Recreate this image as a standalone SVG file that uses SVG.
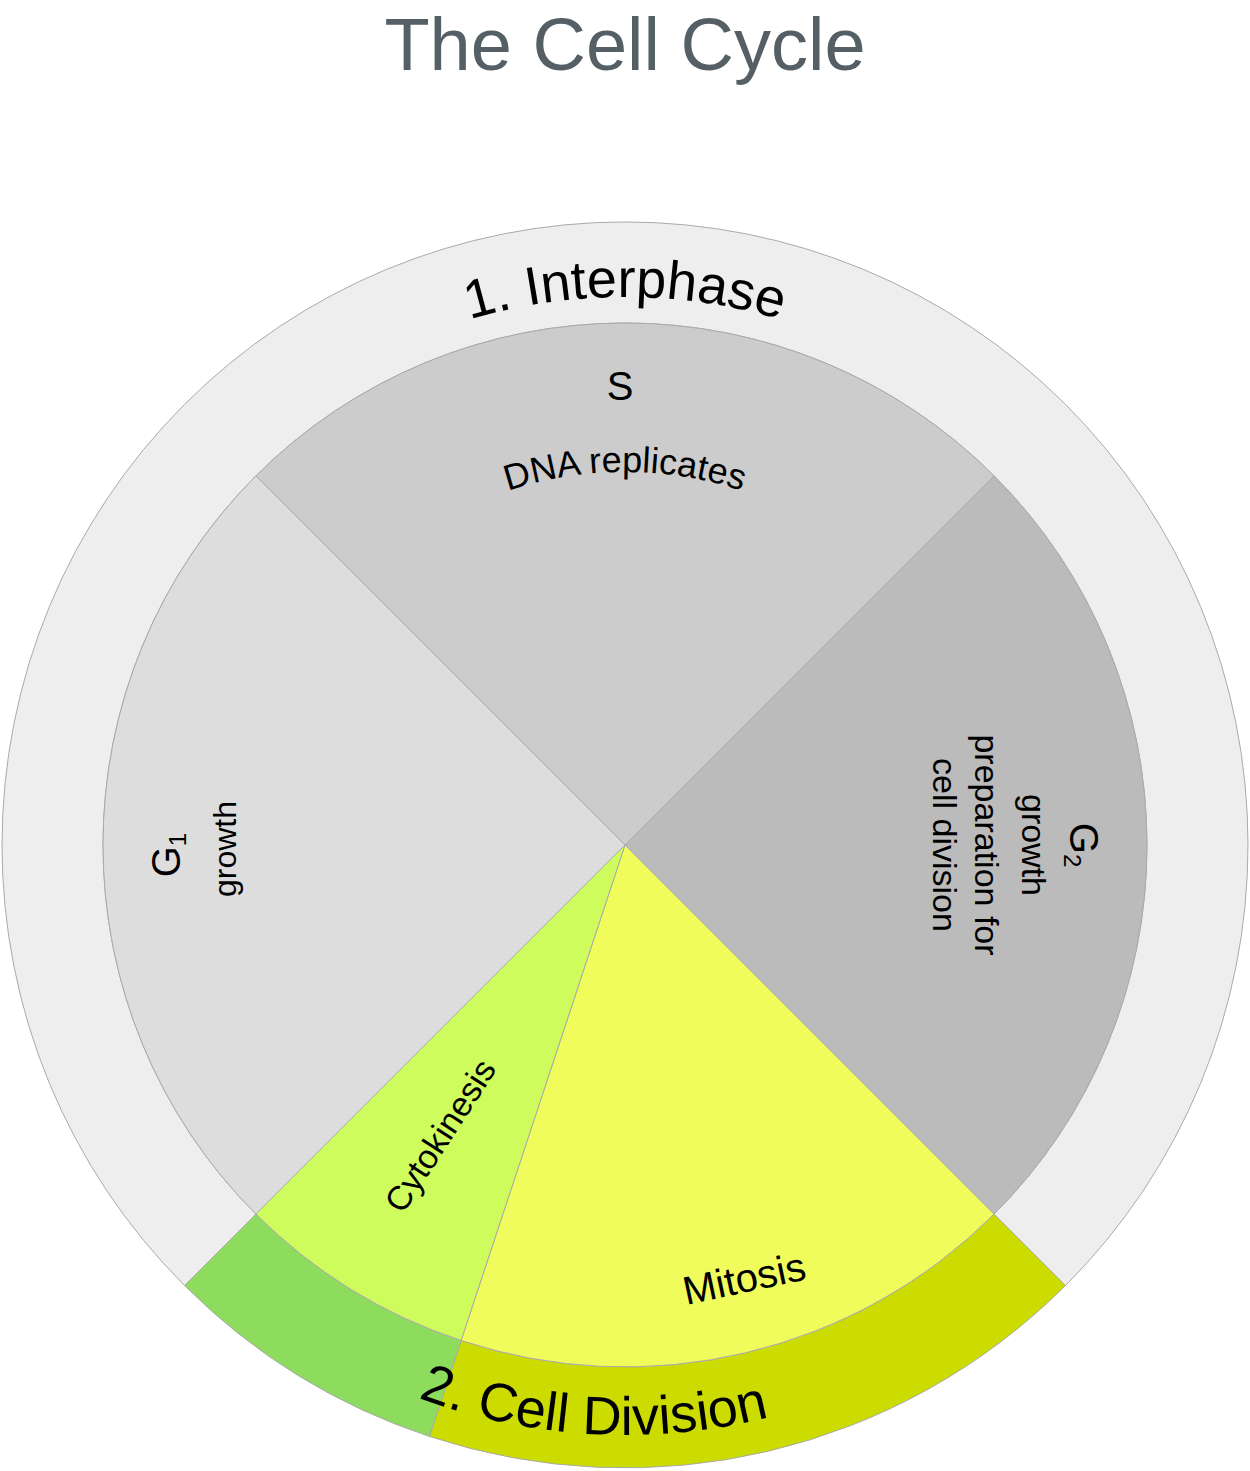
<svg xmlns="http://www.w3.org/2000/svg" width="1250" height="1471" viewBox="0 0 1250 1471">
<style>
.s{stroke:#aaaaaa;stroke-width:1}
text{font-family:"Liberation Sans",Arial,sans-serif;fill:#000}
</style>
<defs>
<path id="pTop" d="M77,845 A548 548 0 0 1 1173,845"/>
<path id="pDna" d="M252,845 A373 373 0 0 1 998,845"/>
<path id="pBot" d="M35,845 A590 590 0 0 0 1215,845"/>
</defs>
<rect width="1250" height="1471" fill="#fff"/>
<text x="625" y="70" text-anchor="middle" font-size="74" style="fill:#546066">The Cell Cycle</text>
<g id="interphase"><path class="s" fill="#eeeeee" d="M184.5,1285.5 A623 623 0 1 1 1065.5,1285.5 L994.1,1214.1 A522 522 0 1 0 255.9,1214.1 Z"/>
<text font-size="54"><textPath href="#pTop" startOffset="50%" text-anchor="middle">1. Interphase</textPath></text></g>
<g id="division-ring-olive"><path class="s" fill="#cddc00" d="M1065.5,1285.5 A623 623 0 0 1 429.4,1436.4 L461.1,1340.5 A522 522 0 0 0 994.1,1214.1 Z"/></g>
<g id="division-ring-green"><path class="s" fill="#8edc5e" d="M429.4,1436.4 A623 623 0 0 1 184.5,1285.5 L255.9,1214.1 A522 522 0 0 0 461.1,1340.5 Z"/></g>
<text font-size="54"><textPath href="#pBot" startOffset="894" text-anchor="middle">2. Cell Division</textPath></text>
<g id="S"><path class="s" fill="#cccccc" d="M625,845 L255.9,475.9 A522 522 0 0 1 994.1,475.9 Z"/>
<text x="620" y="400" text-anchor="middle" font-size="40">S</text>
<text font-size="36"><textPath href="#pDna" startOffset="50%" text-anchor="middle">DNA replicates</textPath></text></g>
<g id="G2"><path class="s" fill="#bbbbbb" d="M625,845 L994.1,475.9 A522 522 0 0 1 994.1,1214.1 Z"/>
<g transform="translate(1070,845) rotate(90)" text-anchor="middle"><text y="0" font-size="40">G<tspan font-size="24" dy="6">2</tspan></text>
<text y="48" font-size="34">growth</text><text y="95" font-size="34">preparation for</text><text y="137" font-size="34">cell division</text></g></g>
<g id="mitosis"><path class="s" fill="#f0fc5c" d="M625,845 L994.1,1214.1 A522 522 0 0 1 461.1,1340.5 Z"/>
<text transform="translate(747,1292) rotate(-12)" text-anchor="middle" font-size="40">Mitosis</text></g>
<g id="cytokinesis"><path class="s" fill="#cdfc5c" d="M625,845 L461.1,1340.5 A522 522 0 0 1 255.9,1214.1 Z"/>
<text transform="translate(450,1142) rotate(-57)" text-anchor="middle" font-size="34">Cytokinesis</text></g>
<g id="G1"><path class="s" fill="#dddddd" d="M625,845 L255.9,1214.1 A522 522 0 0 1 255.9,475.9 Z"/>
<g transform="translate(180,855) rotate(-90)" text-anchor="middle"><text font-size="40">G<tspan font-size="24" dy="6">1</tspan></text>
<text x="6" y="56" font-size="32">growth</text></g></g>
</svg>
